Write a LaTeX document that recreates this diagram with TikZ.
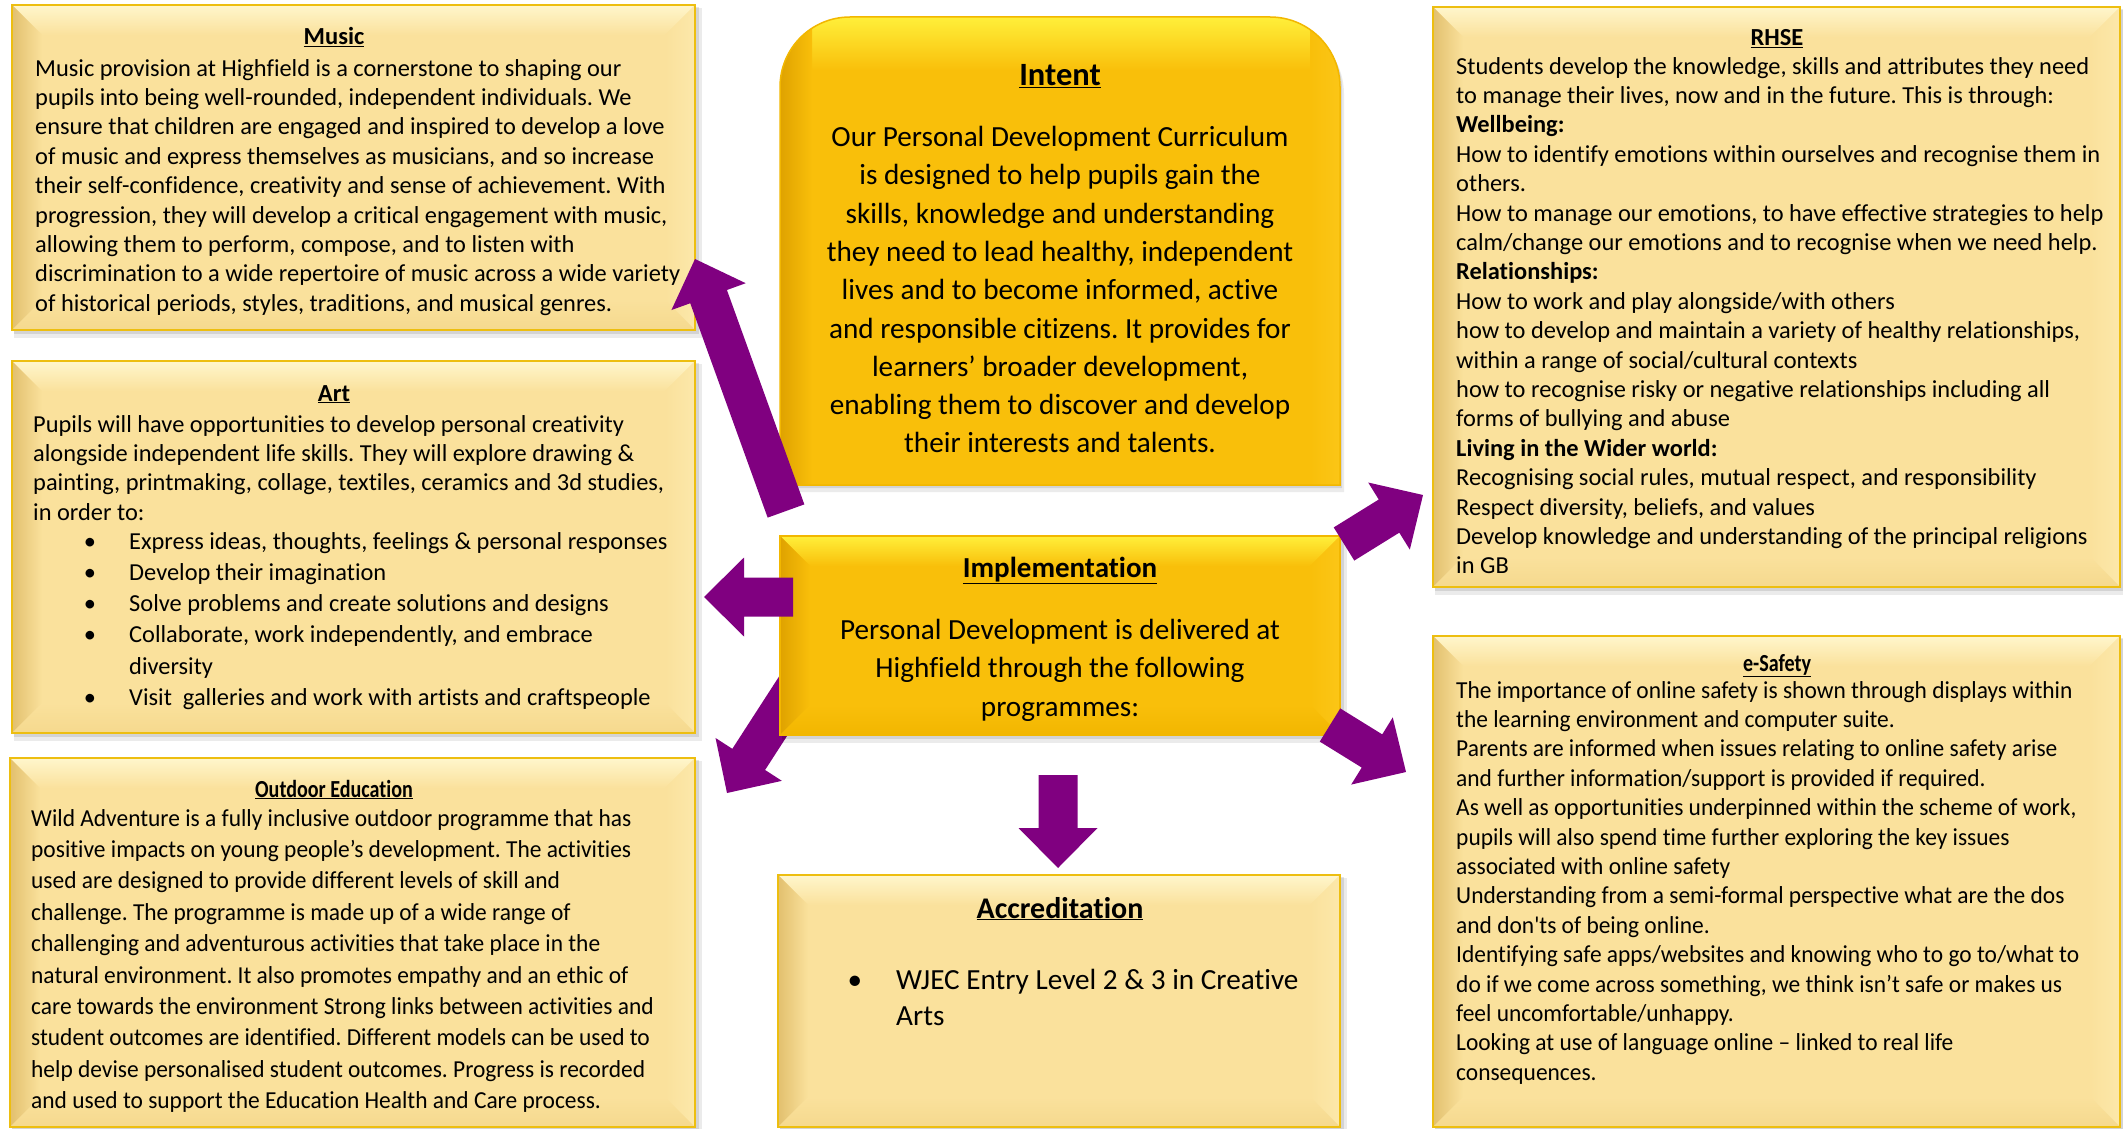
\documentclass[tikz,border=0pt]{standalone}
\usepackage{fontspec}
\setmainfont{Carlito}[Ligatures={TeXOff,NoCommon}]
\newfontfamily\condfont{Carlito}[Ligatures={TeXOff,NoCommon},FakeStretch=0.96]
\usetikzlibrary{calc,fit}
\definecolor{lbase}{HTML}{FAE19C}
\definecolor{ltop}{HTML}{FFF6CC}
\definecolor{lleft}{HTML}{E2C06E}
\definecolor{lright}{HTML}{FCE8AA}
\definecolor{lbot}{HTML}{F5D98E}
\definecolor{lborder}{HTML}{EDBE10}
\definecolor{abase}{HTML}{F9BF0A}
\definecolor{atop}{HTML}{FFEF3A}
\definecolor{aleft}{HTML}{DFA200}
\definecolor{aright}{HTML}{FBC617}
\definecolor{abot}{HTML}{F2B600}
\definecolor{aborder}{HTML}{F2B700}
\definecolor{arrowpurple}{HTML}{800080}

\newcommand\bevelbox[7]{%
  \fill[black,opacity=0.08] ({#2+2},{#3+3}) rectangle ({#4+7},{#5+8});
  \fill[black,opacity=0.10] ({#2+2},{#3+2}) rectangle ({#4+4},{#5+4});
  \fill[#6base] (#2,#3) rectangle (#4,#5);
  \shade[top color=#6top,bottom color=#6base] (#2,#3) -- (#4,#3) -- ({#4-#7},{#3+#7}) -- ({#2+#7},{#3+#7}) -- cycle;
  \shade[left color=#6left,right color=#6base] (#2,#3) -- ({#2+#7},{#3+#7}) -- ({#2+#7},{#5-#7}) -- (#2,#5) -- cycle;
  \shade[left color=#6base,right color=#6right] (#4,#3) -- ({#4-#7},{#3+#7}) -- ({#4-#7},{#5-#7}) -- (#4,#5) -- cycle;
  \shade[top color=#6base,bottom color=#6bot] (#2,#5) -- ({#2+#7},{#5-#7}) -- ({#4-#7},{#5-#7}) -- (#4,#5) -- cycle;
  \node[draw=#6border, line width=1.5pt, inner sep=0pt, fit={(#2,#3) (#4,#5)}] (#1) {};
}
\newcommand\blockarrow[2]{%
  \coordinate (#1-b) at ($(#2)!40pt!(#1)$);
  \fill[arrowpurple] ($(#1)!19.5pt!90:(#2)$) -- ($(#1-b)!19.5pt!90:(#2)$) -- ($(#1-b)!39.5pt!90:(#2)$) -- (#2)
    -- ($(#1-b)!39.5pt!-90:(#2)$) -- ($(#1-b)!19.5pt!-90:(#2)$) -- ($(#1)!19.5pt!-90:(#2)$) -- cycle;
}
\newcommand\intentpath{(780,485) -- (780,87) .. controls (780,48.3) and (811.3,17) .. (850,17) -- (1270,17) .. controls (1308.7,17) and (1340,48.3) .. (1340,87) -- (1340,485) -- cycle}

\begin{document}
\frenchspacing
\begin{tikzpicture}[x=1pt,y=-1pt,
  body/.style={anchor=north west, inner sep=0pt, align=left, font=\fontsize{24.4}{29.4}\selectfont},
  line/.style={anchor=base west, inner sep=0pt, font=\fontsize{24.4}{29.4}\selectfont},
  bul/.style={anchor=base, inner sep=0pt, font=\fontsize{24.4}{29.4}\selectfont},
  ttl/.style={anchor=base, inner sep=0pt, font=\fontsize{24.5}{30}\selectfont\bfseries},
  bigbody/.style={anchor=north, inner sep=0pt, align=center, font=\fontsize{29.2}{38.3}\selectfont},
  bigline/.style={anchor=base west, inner sep=0pt, font=\fontsize{29.2}{38.3}\selectfont},
  bigbul/.style={anchor=base, inner sep=0pt, font=\fontsize{29.2}{38.3}\selectfont},
  bigttl/.style={anchor=base, inner sep=0pt, font=\fontsize{30}{36}\selectfont\bfseries}]
\useasboundingbox (0,0) rectangle (2123,1129);
\fill[white] (0,0) rectangle (2123,1129);

% arrow end points
\coordinate (a1t) at (786,511);  \coordinate (a1h) at (695,259);
\coordinate (a2t) at (793,597);  \coordinate (a2h) at (704,597);
\coordinate (a3t) at (800,680);  \coordinate (a3h) at (727,793);
\coordinate (a4t) at (1344,544); \coordinate (a4h) at (1423,495);
\coordinate (a5t) at (1330,725); \coordinate (a5h) at (1406,772);
\coordinate (a6t) at (1058,775); \coordinate (a6h) at (1058,868);

% arrow behind the Implementation box
\blockarrow{a3t}{a3h}

% boxes
\bevelbox{music}{12}{5}{695}{330}{l}{30}
\bevelbox{art}{12}{361}{695}{733}{l}{30}
\bevelbox{outdoor}{10}{758}{695}{1127}{l}{30}
\bevelbox{rhse}{1433}{7}{2120}{587}{l}{30}
\bevelbox{esafety}{1433}{636}{2120}{1127}{l}{30}
\bevelbox{accr}{778}{875}{1340}{1127}{l}{30}
\bevelbox{impl}{780}{536}{1340}{735}{a}{30}

% Intent box (rounded top corners)
\fill[black,opacity=0.08,xshift=4pt,yshift=-7pt] \intentpath;
\fill[black,opacity=0.10,xshift=2pt,yshift=-3pt] \intentpath;
\fill[abase] \intentpath;
\begin{scope}
  \clip \intentpath;
  \shade[top color=atop,bottom color=abase] (780,17) rectangle (1340,70);
  \shade[left color=aleft,right color=abase] (780,17) rectangle (812,485);
  \shade[left color=abase,right color=aright] (1310,17) rectangle (1340,485);
\end{scope}
\draw[aborder,line width=1.5pt] \intentpath;
\node[inner sep=0pt, fit={(780,17) (1340,485)}] (intent) {};

% Music
\node[ttl] (musict) at (334,45) {\underline{Music}};
\node[body] (musicb) at (35,55.4) {\strut Music provision at Highfield is a cornerstone to shaping our\\
pupils into being well-rounded, independent individuals. We\\
ensure that children are engaged and inspired to develop a love\\
of music and express themselves as musicians, and so increase\\
their self-confidence, creativity and sense of achievement. With\\
progression, they will develop a critical engagement with music,\\
allowing them to perform, compose, and to listen with\\
discrimination to a wide repertoire of music across a wide variety\\
of historical periods, styles, traditions, and musical genres.};

% Art
\node[ttl] (artt) at (334,401) {\underline{Art}};
\node[body] (artb) at (33,411.4) {\strut Pupils will have opportunities to develop personal creativity\\
alongside independent life skills. They will explore drawing \&\\
painting, printmaking, collage, textiles, ceramics and 3d studies,\\
in order to:};
\node[bul] (artu1) at (90,549.6) {•};
\node[line] (arti1) at (129,549.6) {Express ideas, thoughts, feelings \& personal responses};
\node[bul] (artu2) at (90,580.7) {•};
\node[line] (arti2) at (129,580.7) {Develop their imagination};
\node[bul] (artu3) at (90,611.8) {•};
\node[line] (arti3) at (129,611.8) {Solve problems and create solutions and designs};
\node[bul] (artu4) at (90,642.9) {•};
\node[line] (arti4) at (129,642.9) {Collaborate, work independently, and embrace};
\node[line] (arti4b) at (129,674) {diversity};
\node[bul] (artu5) at (90,705.1) {•};
\node[line] (arti5) at (129,705.1) {Visit\ \ galleries and work with artists and craftspeople};

% Outdoor Education
\node[ttl] (outt) at (334,797) {\scalebox{0.82}[1]{\underline{Outdoor Education}}};
\node[body, font=\fontsize{24.4}{31.4}\selectfont\condfont] (outb) at (31,804) {\strut Wild Adventure is a fully inclusive outdoor programme that has\\
positive impacts on young people’s development. The activities\\
used are designed to provide different levels of skill and\\
challenge. The programme is made up of a wide range of\\
challenging and adventurous activities that take place in the\\
natural environment. It also promotes empathy and an ethic of\\
care towards the environment Strong links between activities and\\
student outcomes are identified. Different models can be used to\\
help devise personalised student outcomes. Progress is recorded\\
and used to support the Education Health and Care process.};

% Intent
\node[bigttl, font=\fontsize{32.5}{36}\selectfont\bfseries] (intentt) at (1060,86) {\underline{Intent}};
\node[bigbody] (intentb) at (1060,119.5) {\strut Our Personal Development Curriculum\\
is designed to help pupils gain the\\
skills, knowledge and understanding\\
they need to lead healthy, independent\\
lives and to become informed, active\\
and responsible citizens. It provides for\\
learners’ broader development,\\
enabling them to discover and develop\\
their interests and talents.};

% Implementation
\node[bigttl, font=\fontsize{29}{36}\selectfont\bfseries] (implt) at (1060,577) {\underline{Implementation}};
\node[bigbody] (implb) at (1060,612.5) {\strut Personal Development is delivered at\\
Highfield through the following\\
programmes:};

% Accreditation
\node[bigttl] (accrt) at (1060,918) {\underline{Accreditation}};
\node[bigbul] (accru) at (855,989) {•};
\node[bigline] (accri) at (896,989) {WJEC Entry Level 2 \& 3 in Creative};
\node[bigline] (accri2) at (896,1025) {Arts};

% RHSE
\node[ttl] (rhset) at (1777,46) {\underline{RHSE}};
\node[body] (rhseb) at (1456,53.4) {\strut Students develop the knowledge, skills and attributes they need\\
to manage their lives, now and in the future. This is through:\\
\textbf{Wellbeing:}\\
How to identify emotions within ourselves and recognise them in\\
others.\\
How to manage our emotions, to have effective strategies to help\\
calm/change our emotions and to recognise when we need help.\\
\textbf{Relationships:}\\
How to work and play alongside/with others\\
how to develop and maintain a variety of healthy relationships,\\
within a range of social/cultural contexts\\
how to recognise risky or negative relationships including all\\
forms of bullying and abuse\\
\textbf{Living in the Wider world:}\\
Recognising social rules, mutual respect, and responsibility\\
Respect diversity, beliefs, and values\\
Develop knowledge and understanding of the principal religions\\
in GB};

% e-Safety
\node[ttl] (esaft) at (1777,671) {\scalebox{0.82}[1]{\underline{e-Safety}}};
\node[body, font=\fontsize{24.4}{29.4}\selectfont\condfont] (esafb) at (1456,677.4) {\strut The importance of online safety is shown through displays within\\
the learning environment and computer suite.\\
Parents are informed when issues relating to online safety arise\\
and further information/support is provided if required.\\
As well as opportunities underpinned within the scheme of work,\\
pupils will also spend time further exploring the key issues\\
associated with online safety\\
Understanding from a semi-formal perspective what are the dos\\
and don'ts of being online.\\
Identifying safe apps/websites and knowing who to go to/what to\\
do if we come across something, we think isn’t safe or makes us\\
feel uncomfortable/unhappy.\\
Looking at use of language online – linked to real life\\
consequences.};

% arrows in front
\blockarrow{a1t}{a1h}
\blockarrow{a2t}{a2h}
\blockarrow{a4t}{a4h}
\blockarrow{a5t}{a5h}
\blockarrow{a6t}{a6h}
\end{tikzpicture}
\end{document}
